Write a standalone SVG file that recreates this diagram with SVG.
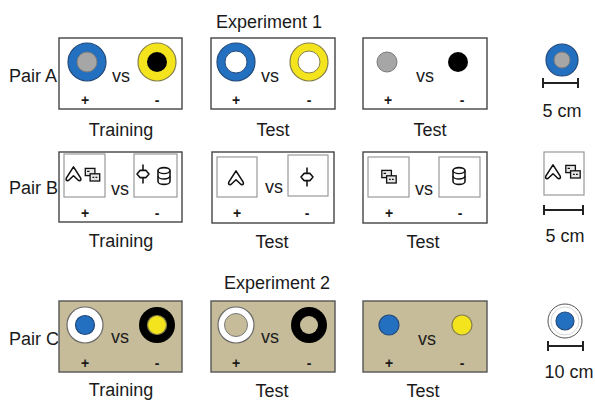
<svg xmlns="http://www.w3.org/2000/svg" xmlns:xlink="http://www.w3.org/1999/xlink" width="595" height="402" viewBox="0 0 595 402">
<style>
text{font-family:"Liberation Sans",Arial,sans-serif;fill:#1a1a1a}
.lbl{font-size:18px}
.cap{font-size:18px;text-anchor:middle}
.vs{font-size:18px}
.sg{font-size:14px;font-weight:bold;text-anchor:middle}
.box{fill:#fff;stroke:#444;stroke-width:1.4}
.tan{fill:#c6bc9a;stroke:#555;stroke-width:1.4}
.sq{fill:#fff;stroke:#999;stroke-width:1.2}
.blue{fill:#2370c0;stroke:#23497a;stroke-width:1.2}
.yel{fill:#f3e41e;stroke:#86804a;stroke-width:1.2}
.gray{fill:#a6a6a6;stroke:#7a7a7a;stroke-width:1}
.blk{fill:#000}
.wht{fill:#fff;stroke:#6a6a6a;stroke-width:1.2}
.bar{stroke:#222;stroke-width:2;fill:none}
.sym{fill:#fff;stroke:#111;stroke-width:1.3;stroke-linejoin:round}
</style>
<defs>
<g id="chev" transform="scale(1.2)"><path class="sym" d="M0,-6 L6,3.5 Q6.8,6 4.2,5.4 L0,1.5 L-4.2,5.4 Q-6.8,6 -6,3.5 Z"/></g>
<g id="rects" transform="scale(1.2)"><rect x="-6" y="-5.5" width="8" height="6" fill="#e6e6e6" stroke="#111" stroke-width="1.1"/><rect x="-2" y="-1" width="8" height="6" fill="#e6e6e6" stroke="#111" stroke-width="1.1"/><path d="M-4.5,-3 h2 M0,2 h1.5 M2.5,2 h1.5" stroke="#111" stroke-width="0.9"/></g>
<g id="lolly" transform="scale(1.2)"><path d="M0,-8 V8" stroke="#111" stroke-width="1.3"/><path class="sym" d="M-5,0 L-2.5,-3 L2.5,-3 L5,0 L2.5,3 L-2.5,3 Z"/></g>
<g id="cyl" transform="scale(1.2)"><path class="sym" d="M-5,-4.5 A5,2.5 0 0 1 5,-4.5 V4.5 A5,2.5 0 0 1 -5,4.5 Z"/><path d="M-5,-4.5 A5,2.5 0 0 0 5,-4.5 M-5,0 A5,2.5 0 0 0 5,0" fill="none" stroke="#111" stroke-width="1.1"/></g>
</defs>

<text class="cap" x="269" y="28">Experiment 1</text>
<text class="cap" x="277" y="289">Experiment 2</text>

<!-- Pair A -->
<g id="pairA">
<text class="lbl" x="9" y="82">Pair A</text>
<g id="A-training">
<rect class="box" x="59" y="38" width="123" height="71"/>
<circle class="blue" cx="87" cy="62" r="19"/><circle class="gray" cx="87" cy="62" r="10"/>
<circle class="yel" cx="157" cy="62" r="19"/><circle class="blk" cx="157" cy="62" r="10"/>
<text class="vs" x="112" y="82">vs</text>
<text class="sg" x="85" y="105">+</text><text class="sg" x="157" y="105">-</text>
<text class="cap" x="121" y="136">Training</text>
</g>
<g id="A-test1">
<rect class="box" x="211" y="38" width="124" height="71"/>
<circle class="blue" cx="236" cy="62" r="19"/><circle cx="236" cy="62" r="11" fill="#fff" stroke="#23497a" stroke-width="1"/>
<circle class="yel" cx="309" cy="62" r="19"/><circle cx="309" cy="62" r="11" fill="#fff" stroke="#86804a" stroke-width="1"/>
<text class="vs" x="261" y="82">vs</text>
<text class="sg" x="236" y="105">+</text><text class="sg" x="309" y="105">-</text>
<text class="cap" x="273" y="136">Test</text>
</g>
<g id="A-test2">
<rect class="box" x="363" y="38" width="124" height="71"/>
<circle class="gray" cx="387" cy="62" r="10"/>
<circle class="blk" cx="458" cy="62" r="10"/>
<text class="vs" x="416" y="82">vs</text>
<text class="sg" x="388" y="105">+</text><text class="sg" x="462" y="105">-</text>
<text class="cap" x="430" y="136">Test</text>
</g>
<g id="A-scale">
<circle class="blue" cx="562" cy="60" r="16"/><circle class="gray" cx="562" cy="60" r="8"/>
<path class="bar" d="M543,83 H578 M543,78 V88 M578,78 V88"/>
<text class="cap" x="562" y="117">5 cm</text>
</g>
</g>

<!-- Pair B -->
<g id="pairB">
<text class="lbl" x="9" y="194">Pair B</text>
<g id="B-training">
<rect class="box" x="59" y="152" width="123" height="70"/>
<rect class="sq" x="64" y="154" width="41" height="43"/>
<rect class="sq" x="134" y="154" width="43" height="43"/>
<use xlink:href="#chev" x="73.5" y="174"/>
<use xlink:href="#rects" x="92.5" y="175"/>
<use xlink:href="#lolly" x="143" y="174"/>
<use xlink:href="#cyl" x="164" y="176"/>
<text class="vs" x="111" y="195">vs</text>
<text class="sg" x="85" y="218">+</text><text class="sg" x="157" y="218">-</text>
<text class="cap" x="121" y="247">Training</text>
</g>
<g id="B-test1">
<rect class="box" x="212" y="152" width="122" height="71"/>
<rect class="sq" x="217" y="157" width="40" height="40"/>
<rect class="sq" x="288" y="155" width="40" height="41"/>
<use xlink:href="#chev" x="236" y="178"/>
<use xlink:href="#lolly" x="307" y="177"/>
<text class="vs" x="265" y="193">vs</text>
<text class="sg" x="237" y="218">+</text><text class="sg" x="307" y="218">-</text>
<text class="cap" x="272" y="248">Test</text>
</g>
<g id="B-test2">
<rect class="box" x="363" y="152" width="124" height="71"/>
<rect class="sq" x="368" y="157" width="41" height="40"/>
<rect class="sq" x="439" y="157" width="41" height="40"/>
<use xlink:href="#rects" x="389" y="177"/>
<use xlink:href="#cyl" x="459" y="176"/>
<text class="vs" x="415" y="195">vs</text>
<text class="sg" x="389" y="218">+</text><text class="sg" x="460" y="218">-</text>
<text class="cap" x="423" y="248">Test</text>
</g>
<g id="B-scale">
<rect class="sq" x="544" y="152" width="40" height="43"/>
<use xlink:href="#chev" x="553" y="172"/>
<use xlink:href="#rects" x="573" y="172"/>
<path class="bar" d="M544,210 H583 M544,205 V215 M583,205 V215"/>
<text class="cap" x="565" y="242">5 cm</text>
</g>
</g>

<!-- Pair C -->
<g id="pairC">
<text class="lbl" x="9" y="345">Pair C</text>
<g id="C-training">
<rect class="tan" x="59" y="301" width="123" height="71"/>
<circle class="wht" cx="85" cy="325" r="18"/><circle class="blue" cx="85" cy="325" r="9.5"/>
<circle class="blk" cx="157" cy="325" r="18"/><circle class="yel" cx="157" cy="325" r="9.5" stroke="none"/>
<text class="vs" x="111" y="343">vs</text>
<text class="sg" x="85" y="368">+</text><text class="sg" x="157" y="368">-</text>
<text class="cap" x="121" y="396">Training</text>
</g>
<g id="C-test1">
<rect class="tan" x="211" y="301" width="124" height="71"/>
<circle class="wht" cx="236" cy="325" r="18"/><circle cx="236" cy="325" r="11.5" fill="#c6bc9a" stroke="#7a7a7a" stroke-width="1"/>
<circle class="blk" cx="309" cy="325" r="18"/><circle cx="309" cy="325" r="9" fill="#c6bc9a"/>
<text class="vs" x="261" y="343">vs</text>
<text class="sg" x="236" y="368">+</text><text class="sg" x="309" y="368">-</text>
<text class="cap" x="272" y="397">Test</text>
</g>
<g id="C-test2">
<rect class="tan" x="363" y="301" width="124" height="71"/>
<circle class="blue" cx="389" cy="325" r="10"/>
<circle class="yel" cx="462" cy="325" r="10"/>
<text class="vs" x="418" y="345">vs</text>
<text class="sg" x="389" y="368">+</text><text class="sg" x="462" y="368">-</text>
<text class="cap" x="423" y="397">Test</text>
</g>
<g id="C-scale">
<circle cx="565" cy="321" r="17" fill="#fff" stroke="#555" stroke-width="1"/>
<circle cx="565" cy="321" r="14" fill="none" stroke="#ccc" stroke-width="0.8"/>
<circle class="blue" cx="565" cy="321" r="9"/>
<path class="bar" d="M548,346 H583 M548,341 V351 M583,341 V351"/>
<text class="cap" x="569" y="378">10 cm</text>
</g>
</g>
</svg>
